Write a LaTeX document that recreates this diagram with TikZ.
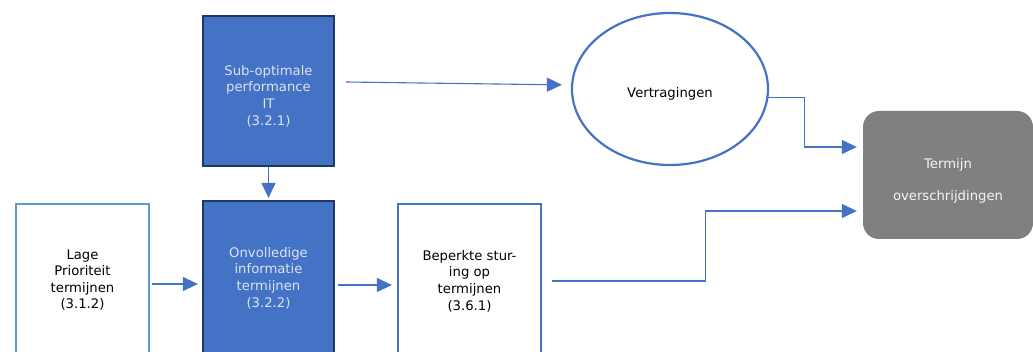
\documentclass[tikz,border=0pt]{standalone}
\usepackage{fontspec}
\setmainfont{DejaVu Sans}
\usetikzlibrary{shapes.geometric,arrows.meta}
\definecolor{oblue}{HTML}{4472C4}
\definecolor{navy}{HTML}{1F3864}
\definecolor{lblue}{HTML}{5B9BD5}
\definecolor{paletxt}{HTML}{DCE4F4}
\tikzstyle{txt} = [font=\fontsize{13.2}{16.6}\selectfont, align=center, inner sep=0]
\tikzstyle{darkbox} = [txt, draw=navy, fill=oblue, line width=2.2pt,
    rectangle, text=paletxt, minimum width=131pt]
\tikzstyle{lightbox} = [txt, draw=oblue, fill=white, line width=2.2pt,
    rectangle, text=black]
\tikzstyle{endbox} = [txt, fill=gray, rounded corners=16pt, text=white!92!gray,
    minimum width=170pt, minimum height=128pt]
\tikzstyle{arr} = [oblue, line width=1.1pt, -{Triangle[length=15pt,width=14pt]}]

\begin{document}
\begin{tikzpicture}[x=1pt,y=-1pt]
    \useasboundingbox (0,0) rectangle (1033,352);
    % oorzaken
    \node [darkbox, minimum height=150pt, text height=70pt] (sub) at (268.5,91)
        {Sub-optimale\\performance\\IT\\(3.2.1)};
    \node [darkbox, minimum height=154pt] (onv) at (268.5,278)
        {Onvolledige\\informatie\\termijnen\\(3.2.2)};
    \node [lightbox, draw=lblue, minimum width=133pt, minimum height=152pt] (lage) at (82.5,280)
        {Lage\\Prioriteit\\termijnen\\(3.1.2)};
    \node [lightbox, minimum width=143pt, minimum height=154pt] (bep) at (469.5,281)
        {Beperkte stur-\\ing op\\termijnen\\(3.6.1)};
    % gevolgen
    \node [txt, ellipse, draw=oblue, line width=2.2pt, minimum width=196pt,
        minimum height=152pt, text height=20pt] (ell) at (670,89) {Vertragingen};
    \node [endbox, text height=53.6pt] (term) at (948,175) {Termijn\\[15pt]overschrijdingen};
    % pijlen
    \draw [arr] ([xshift=11pt,yshift=9pt]sub.east) -- ([yshift=4pt]ell.west)
        [shorten >=9pt];
    \draw [arr, shorten >=2pt] (sub.south) -- (onv.north);
    \draw [arr, shorten <=2pt, shorten >=4pt] ([yshift=-4pt]lage.east) -- ([yshift=-6pt]onv.west);
    \draw [arr, shorten <=3pt, shorten >=5pt] ([yshift=-7pt]onv.east) -- ([yshift=-4pt]bep.west);
    \draw [arr, shorten >=6pt] (ell.-5) -- ++(36,0) |- ([yshift=28pt]term.west);
    \draw [arr, shorten >=6pt] ([xshift=10pt]bep.east) -- ++(153,0)
        |- ([yshift=-36pt]term.west);
\end{tikzpicture}
\end{document}
